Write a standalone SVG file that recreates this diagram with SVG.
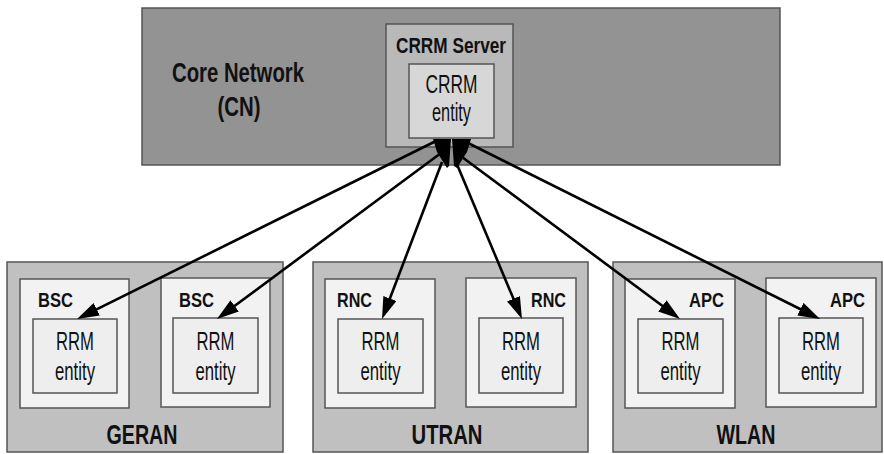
<svg xmlns="http://www.w3.org/2000/svg" width="884" height="454" viewBox="0 0 884 454">
  <style>
    .box { stroke: #555555; stroke-width: 1.5; }
    .cn { fill: #939393; }
    .server { fill: #b9b9b9; }
    .crrm { fill: #d7d7d7; }
    .ran { fill: #c0c0c0; }
    .ctrl { fill: #f2f2f2; }
    .rrm { fill: #eeeeee; }
    text { font-family: "Liberation Sans", Arial, sans-serif; fill: #111111; }
    .big { font-size: 28px; font-weight: bold; }
    .lbl { font-size: 21px; font-weight: bold; }
    .ent { font-size: 25px; }
    .mid { text-anchor: middle; }
    .end { text-anchor: end; }
    .link { stroke: #000000; stroke-width: 2.6; fill: none; marker-end: url(#head); }
  </style>
  <defs>
    <marker id="head" markerUnits="userSpaceOnUse" markerWidth="22" markerHeight="14" refX="12" refY="7" orient="auto">
      <path d="M0,0 L22,7 L0,14 z" fill="#000000"/>
    </marker>
  </defs>

  <rect width="884" height="454" fill="#ffffff"/>

  <!-- Core network with the CRRM server -->
  <g id="core-network">
    <rect class="box cn" x="142" y="8" width="638" height="157"/>
    <text class="big mid" x="238" y="82" textLength="132" lengthAdjust="spacingAndGlyphs">Core Network</text>
    <text class="big mid" x="239" y="116" textLength="43" lengthAdjust="spacingAndGlyphs">(CN)</text>
  </g>
  <g id="crrm-server">
    <rect class="box server" x="386" y="24" width="127" height="123"/>
    <text class="big mid" style="font-size:22px" x="451" y="53" textLength="110" lengthAdjust="spacingAndGlyphs">CRRM Server</text>
  </g>
  <g id="crrm-entity">
    <rect class="box crrm" x="409" y="64" width="85" height="74"/>
    <text class="ent mid" x="451.5" y="93" textLength="52" lengthAdjust="spacingAndGlyphs">CRRM</text>
    <text class="ent mid" x="451.5" y="121" textLength="39" lengthAdjust="spacingAndGlyphs">entity</text>
  </g>

  <!-- GERAN -->
  <g id="geran">
    <rect class="box ran" x="7" y="262" width="276" height="190"/>
    <text class="big mid" x="142" y="444" textLength="71" lengthAdjust="spacingAndGlyphs">GERAN</text>
  </g>
  <g id="bsc-1">
    <rect class="box ctrl" x="20" y="279" width="109" height="129"/>
    <text class="lbl" x="38" y="307" textLength="35" lengthAdjust="spacingAndGlyphs">BSC</text>
    <rect class="box rrm" x="33" y="319" width="84" height="74"/>
    <text class="ent mid" x="75" y="350" textLength="38" lengthAdjust="spacingAndGlyphs">RRM</text>
    <text class="ent mid" x="75" y="380" textLength="40" lengthAdjust="spacingAndGlyphs">entity</text>
  </g>
  <g id="bsc-2">
    <rect class="box ctrl" x="161" y="278" width="109" height="129"/>
    <text class="lbl" x="179" y="307" textLength="35" lengthAdjust="spacingAndGlyphs">BSC</text>
    <rect class="box rrm" x="173" y="318" width="85" height="75"/>
    <text class="ent mid" x="215.5" y="350" textLength="38" lengthAdjust="spacingAndGlyphs">RRM</text>
    <text class="ent mid" x="215.5" y="380" textLength="40" lengthAdjust="spacingAndGlyphs">entity</text>
  </g>

  <!-- UTRAN -->
  <g id="utran">
    <rect class="box ran" x="313" y="262" width="275" height="190"/>
    <text class="big mid" x="447" y="444" textLength="71" lengthAdjust="spacingAndGlyphs">UTRAN</text>
  </g>
  <g id="rnc-1">
    <rect class="box ctrl" x="325" y="279" width="110" height="129"/>
    <text class="lbl" x="337" y="307" textLength="35" lengthAdjust="spacingAndGlyphs">RNC</text>
    <rect class="box rrm" x="338" y="319" width="85" height="74"/>
    <text class="ent mid" x="380.5" y="350" textLength="38" lengthAdjust="spacingAndGlyphs">RRM</text>
    <text class="ent mid" x="380.5" y="380" textLength="40" lengthAdjust="spacingAndGlyphs">entity</text>
  </g>
  <g id="rnc-2">
    <rect class="box ctrl" x="466" y="278" width="110" height="129"/>
    <text class="lbl end" x="566" y="307" textLength="35" lengthAdjust="spacingAndGlyphs">RNC</text>
    <rect class="box rrm" x="479" y="318" width="84" height="75"/>
    <text class="ent mid" x="521" y="350" textLength="38" lengthAdjust="spacingAndGlyphs">RRM</text>
    <text class="ent mid" x="521" y="380" textLength="40" lengthAdjust="spacingAndGlyphs">entity</text>
  </g>

  <!-- WLAN -->
  <g id="wlan">
    <rect class="box ran" x="613" y="262" width="269" height="190"/>
    <text class="big mid" x="746" y="444" textLength="59" lengthAdjust="spacingAndGlyphs">WLAN</text>
  </g>
  <g id="apc-1">
    <rect class="box ctrl" x="625" y="279" width="110" height="129"/>
    <text class="lbl end" x="724" y="307" textLength="35" lengthAdjust="spacingAndGlyphs">APC</text>
    <rect class="box rrm" x="638" y="319" width="85" height="74"/>
    <text class="ent mid" x="680.5" y="350" textLength="38" lengthAdjust="spacingAndGlyphs">RRM</text>
    <text class="ent mid" x="680.5" y="380" textLength="40" lengthAdjust="spacingAndGlyphs">entity</text>
  </g>
  <g id="apc-2">
    <rect class="box ctrl" x="766" y="278" width="110" height="129"/>
    <text class="lbl end" x="865" y="307" textLength="35" lengthAdjust="spacingAndGlyphs">APC</text>
    <rect class="box rrm" x="779" y="318" width="84" height="75"/>
    <text class="ent mid" x="821" y="350" textLength="38" lengthAdjust="spacingAndGlyphs">RRM</text>
    <text class="ent mid" x="821" y="380" textLength="40" lengthAdjust="spacingAndGlyphs">entity</text>
  </g>

  <!-- Links between the CRRM entity and each RRM entity -->
  <g id="connectors">
    <path d="M433,139 L451,139 L449,166 L447,168 L437,152 z" fill="#000000"/>
    <path d="M452,139 L471,139 L467,152 L457,168 L454,166 z" fill="#000000"/>
    <path class="link" d="M436,141 L86,314.6"/>
    <path class="link" d="M441,153 L225,313"/>
    <path class="link" d="M442,162 L385.6,309.7"/>
    <path class="link" d="M456,162 L518.1,309.8"/>
    <path class="link" d="M462,157 L672,313"/>
    <path class="link" d="M466,142 L811.1,314.5"/>
  </g>
</svg>
